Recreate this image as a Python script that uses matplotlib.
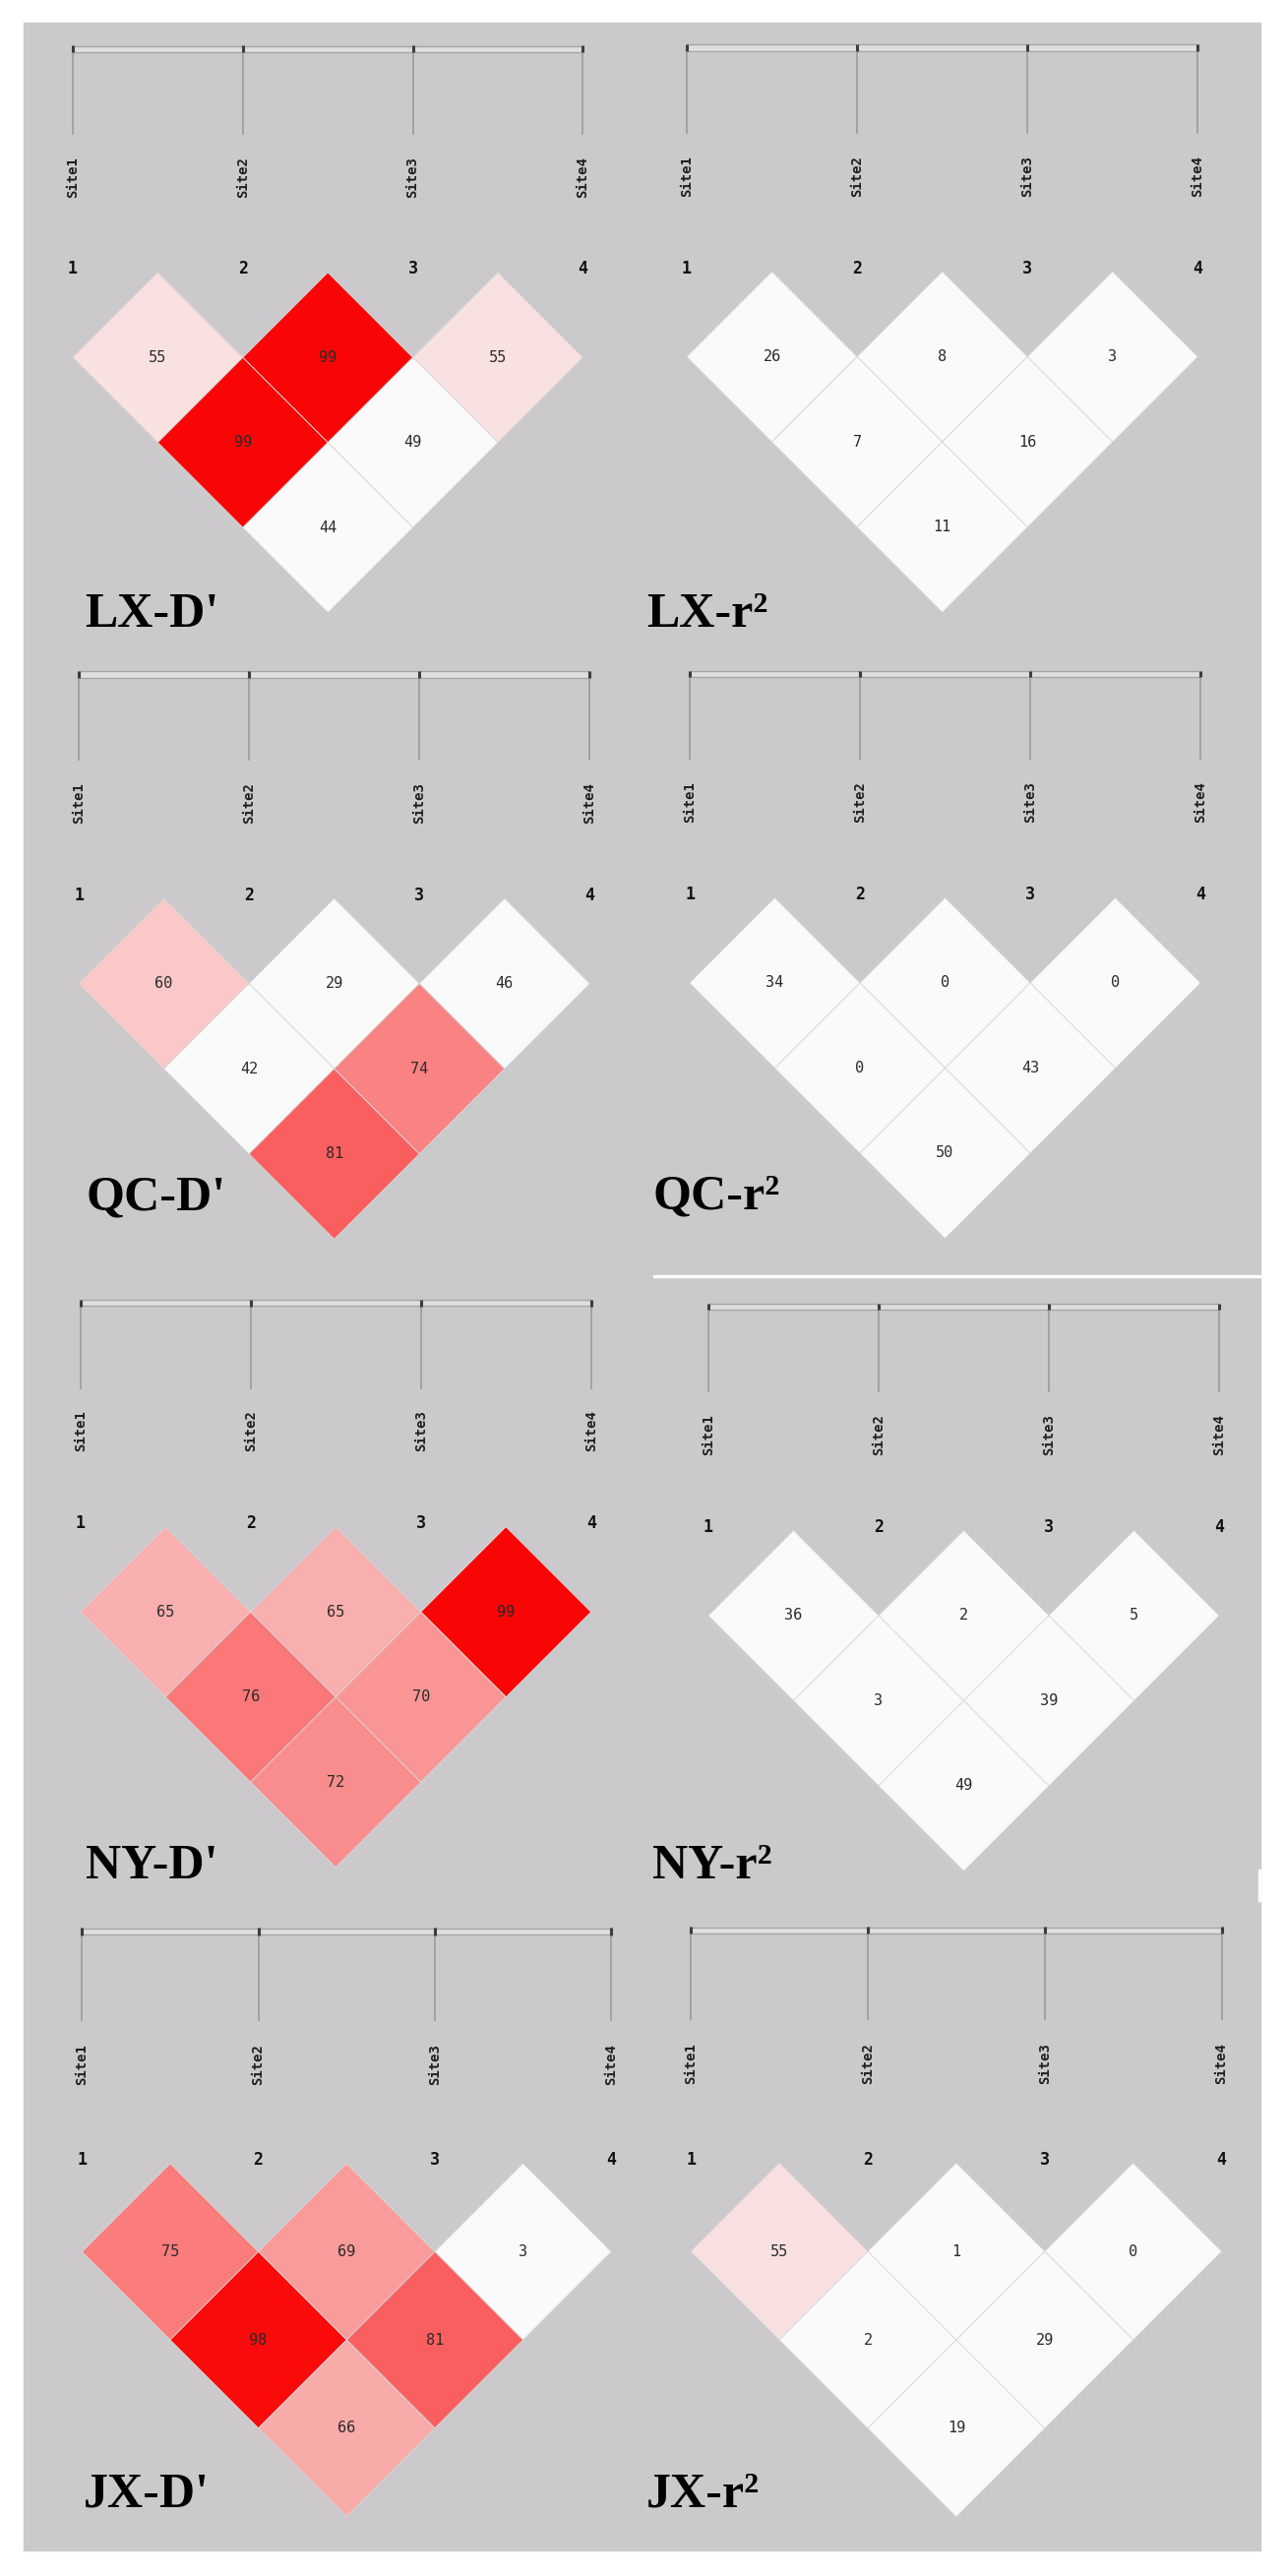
import numpy as np
import matplotlib
matplotlib.use('Agg')
import matplotlib.pyplot as plt
from matplotlib.collections import PolyCollection
from matplotlib.colors import LinearSegmentedColormap, Normalize
from matplotlib.patches import Rectangle

sites = ['Site1', 'Site2', 'Site3', 'Site4']
# marker pairs, same order as the values below
pairs = [(1, 2), (2, 3), (3, 4), (1, 3), (2, 4), (1, 4)]

lx_dprime = [55, 99, 55, 99, 49, 44]
lx_r2 = [26, 8, 3, 7, 16, 11]
qc_dprime = [60, 29, 46, 42, 74, 81]
qc_r2 = [34, 0, 0, 0, 43, 50]
ny_dprime = [65, 65, 99, 76, 70, 72]
ny_r2 = [36, 2, 5, 3, 39, 49]
jx_dprime = [75, 69, 3, 98, 81, 66]
jx_r2 = [55, 1, 0, 2, 29, 19]

W, H = 1306, 2618
BG = '#cbc9cc'

# haploview style shading: white below 50, towards pure red at 100
ld_cmap = LinearSegmentedColormap.from_list('ld', ['#f9faf9', '#fa0000'])
ld_norm = Normalize(vmin=50, vmax=100, clip=True)

# layout (pixels): site1 x, site spacing, ruler y, label x, label baseline (in spacings below ruler)
panels = [
    ("LX-D'", lx_dprime, 74.0, 172.8, 49.7, 86, 3.40),
    ("LX-r\u00b2", lx_r2, 698.0, 173.1, 48.4, 657, 3.40),
    ("QC-D'", qc_dprime, 80.0, 173.1, 685.5, 87, 3.14),
    ("QC-r\u00b2", qc_r2, 701.0, 173.0, 685.0, 663, 3.14),
    ("NY-D'", ny_dprime, 81.7, 173.0, 1324.2, 87, 3.38),
    ("NY-r\u00b2", ny_r2, 720.0, 173.0, 1328.0, 663, 3.36),
    ("JX-D'", jx_dprime, 83.3, 179.3, 1963.0, 85, 3.26),
    ("JX-r\u00b2", jx_r2, 702.2, 179.8, 1961.8, 657, 3.26),
]

fig = plt.figure(figsize=(W / 100, H / 100), dpi=100)
fig.patch.set_facecolor('white')


def px_rect(x0, y0, x1, y1, color):
    fig.patches.append(Rectangle((x0 / W, 1 - y1 / H), (x1 - x0) / W, (y1 - y0) / H,
                                 transform=fig.transFigure, color=color, zorder=-10))


px_rect(24, 23, 1281, 2592, BG)
# seams between the pasted screenshots
px_rect(664, 1296, 1281, 1298, 'white')
px_rect(1279, 1900, 1281, 1932, 'white')


def draw_panel(title, values, x1, sp, ybar, xlab, ylab):
    ax = fig.add_axes([(x1 - sp) / W, 1 - (ybar + 4 * sp) / H, 5 * sp / W, 5 * sp / H])
    ax.set_xlim(0, 5)
    ax.set_ylim(4, -1)
    ax.axis('off')
    pos = np.arange(1, len(sites) + 1)

    # ruler with the site ticks
    ax.add_patch(Rectangle((pos[0], -0.018), pos[-1] - pos[0], 0.036,
                           fc='#dedede', ec='#a6a6a6', lw=1.0))
    ax.vlines(pos, 0, 0.505, color='#a0a0a0', lw=1.3)
    ax.vlines(pos, -0.02, 0.02, color='#3c3c3c', lw=2.2)
    for p, s in zip(pos, sites):
        ax.text(p, 0.752, s, rotation=90, ha='center', va='center',
                family='DejaVu Sans Mono', weight='bold', fontsize=10, color='#1e1e1e')
        ax.text(p, 1.295, str(p), ha='center', va='center',
                family='DejaVu Sans Mono', weight='bold', fontsize=12, color='#111111')

    # LD triangle
    verts = []
    centers = []
    for i, j in pairs:
        cx = (i + j) / 2
        cy = 1.315 + 0.5 * (j - i)
        verts.append([(cx, cy - 0.5), (cx + 0.5, cy), (cx, cy + 0.5), (cx - 0.5, cy)])
        centers.append((cx, cy))
    pc = PolyCollection(verts, array=np.array(values, dtype=float), cmap=ld_cmap, norm=ld_norm,
                        edgecolors='#d8d8d8', linewidths=0.6)
    ax.add_collection(pc)
    for (cx, cy), v in zip(centers, values):
        ax.text(cx, cy, str(v), ha='center', va='center',
                family='DejaVu Sans Mono', fontsize=11, color='#2a2a2a')

    ax.text((xlab - x1) / sp + 1, ylab, title, ha='left', va='baseline',
            family='Liberation Serif', weight='bold', fontsize=36, color='black')


for title, values, x1, sp, ybar, xlab, ylab in panels:
    draw_panel(title, values, x1, sp, ybar, xlab, ylab)

fig.savefig('out.png', dpi=100)
